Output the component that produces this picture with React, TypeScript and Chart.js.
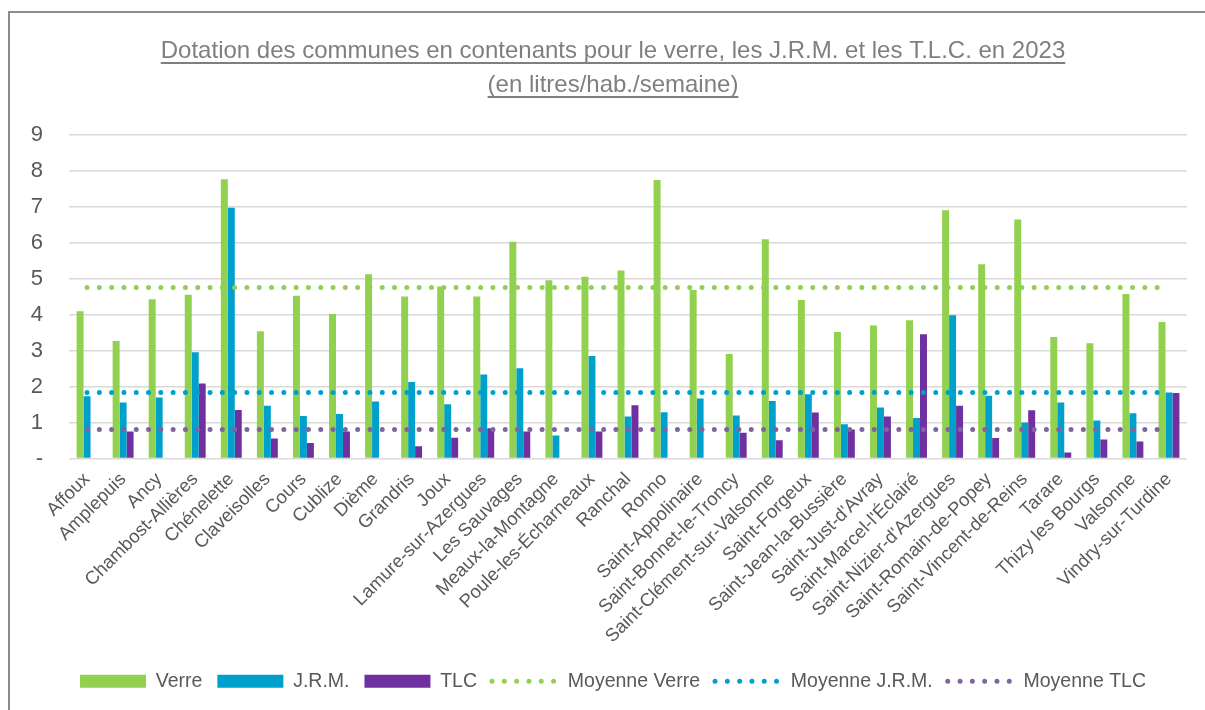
import React, { useEffect, useRef } from "react";
import { Chart, registerables } from "chart.js";

Chart.register(...registerables);

const FONT = "'Liberation Sans', Arial, sans-serif";

const TITLE_LINES = [
  "Dotation des communes en contenants pour le verre, les J.R.M. et les T.L.C. en 2023",
  "(en litres/hab./semaine)",
];

const COMMUNES = [
  "Affoux", "Amplepuis", "Ancy", "Chambost-Allières", "Chénelette", "Claveisolles",
  "Cours", "Cublize", "Dième", "Grandris", "Joux", "Lamure-sur-Azergues",
  "Les Sauvages", "Meaux-la-Montagne", "Poule-les-Écharneaux", "Ranchal", "Ronno",
  "Saint-Appolinaire", "Saint-Bonnet-le-Troncy", "Saint-Clément-sur-Valsonne",
  "Saint-Forgeux", "Saint-Jean-la-Bussière", "Saint-Just-d'Avray",
  "Saint-Marcel-l'Éclairé", "Saint-Nizier-d'Azergues", "Saint-Romain-de-Popey",
  "Saint-Vincent-de-Reins", "Tarare", "Thizy les Bourgs", "Valsonne", "Vindry-sur-Turdine",
];

const VERRE = [
  4.10, 3.27, 4.43, 4.56, 7.77, 3.54, 4.53, 4.02, 5.13, 4.51, 4.79, 4.51, 6.03, 4.96,
  5.06, 5.23, 7.75, 4.69, 2.91, 6.10, 4.41, 3.52, 3.70, 3.85, 6.91, 5.41, 6.65, 3.38,
  3.21, 4.58, 3.80,
];

const JRM = [
  1.73, 1.56, 1.70, 2.96, 6.98, 1.47, 1.18, 1.24, 1.59, 2.13, 1.51, 2.34, 2.51, 0.64,
  2.85, 1.17, 1.29, 1.67, 1.20, 1.60, 1.79, 0.95, 1.42, 1.13, 3.99, 1.75, 1.00, 1.56,
  1.06, 1.26, 1.84,
];

const TLC = [
  null, 0.75, null, 2.09, 1.35, 0.56, 0.43, 0.75, null, 0.34, 0.58, 0.84, 0.75, null,
  0.75, 1.48, null, null, 0.72, 0.51, 1.28, 0.81, 1.17, 3.46, 1.47, 0.57, 1.34, 0.17,
  0.53, 0.47, 1.82,
];

const MOYENNE_VERRE = 4.76;
const MOYENNE_JRM = 1.84;
const MOYENNE_TLC = 0.81;

const Y_TICKS = [0, 1, 2, 3, 4, 5, 6, 7, 8, 9];

const GREEN = "#92D050";
const BLUE = "#00A0CC";
const PURPLE = "#7030A0";
const PURPLE_DOT = "#8064A2";
const TEXT = "#595959";
const DOT_DASH = [0, 12.3];

const TITLE_SIZE = 24;
const TITLE_LH = 1.42;
const TITLE_PAD_TOP = 34;

const underlinePlugin = {
  id: "titleUnderline",
  afterDraw(chart: any) {
    const tb = chart.titleBlock;
    if (!tb) return;
    const ctx = chart.ctx;
    const lh = TITLE_SIZE * TITLE_LH;
    const cx = (tb.left + tb.right) / 2;
    ctx.save();
    ctx.font = `normal ${TITLE_SIZE}px ${FONT}`;
    ctx.strokeStyle = "#7f7f7f";
    ctx.lineWidth = 2;
    TITLE_LINES.forEach((line, i) => {
      const w = ctx.measureText(line).width;
      const y = tb.top + TITLE_PAD_TOP + lh / 2 + i * lh + 12;
      ctx.beginPath();
      ctx.moveTo(cx - w / 2, y);
      ctx.lineTo(cx + w / 2, y);
      ctx.stroke();
    });
    ctx.restore();
  },
};

export default function App() {
  const ref = useRef<HTMLCanvasElement>(null);

  useEffect(() => {
    const lineData = (v: number) => COMMUNES.map(() => v);
    const chart = new Chart(ref.current as HTMLCanvasElement, {
      type: "bar",
      data: {
        labels: COMMUNES,
        datasets: [
          { type: "bar", label: "Verre", data: VERRE, backgroundColor: GREEN, categoryPercentage: 0.58, barPercentage: 1, order: 2 },
          { type: "bar", label: "J.R.M.", data: JRM, backgroundColor: BLUE, categoryPercentage: 0.58, barPercentage: 1, order: 2 },
          { type: "bar", label: "TLC", data: TLC, backgroundColor: PURPLE, categoryPercentage: 0.58, barPercentage: 1, order: 2 },
          { type: "line", label: "Moyenne Verre", data: lineData(MOYENNE_VERRE), borderColor: GREEN, borderWidth: 5, borderDash: DOT_DASH, borderCapStyle: "round", pointRadius: 0, fill: false, order: 1 },
          { type: "line", label: "Moyenne J.R.M.", data: lineData(MOYENNE_JRM), borderColor: BLUE, borderWidth: 5, borderDash: DOT_DASH, borderCapStyle: "round", pointRadius: 0, fill: false, order: 1 },
          { type: "line", label: "Moyenne TLC", data: lineData(MOYENNE_TLC), borderColor: PURPLE_DOT, borderWidth: 5, borderDash: DOT_DASH, borderCapStyle: "round", pointRadius: 0, fill: false, order: 1 },
        ] as any,
      },
      options: {
        animation: false,
        responsive: false,
        devicePixelRatio: 1,
        layout: { padding: { left: 0, right: 0, top: 0, bottom: 9 } },
        plugins: {
          tooltip: { enabled: false },
          title: {
            display: true,
            text: TITLE_LINES,
            color: "#7f7f7f",
            font: { family: FONT, size: TITLE_SIZE, weight: "normal", lineHeight: TITLE_LH },
            padding: { top: TITLE_PAD_TOP, bottom: 33 },
          },
          legend: {
            position: "bottom",
            labels: {
              usePointStyle: true,
              pointStyleWidth: 66,
              boxHeight: 13,
              padding: 15,
              color: TEXT,
              font: { family: FONT, size: 19.5 },
              generateLabels: (c: any) =>
                c.data.datasets.map((ds: any, i: number) => {
                  const isLine = ds.type === "line";
                  return {
                    text: ds.label,
                    datasetIndex: i,
                    hidden: false,
                    fillStyle: isLine ? "rgba(0,0,0,0)" : ds.backgroundColor,
                    strokeStyle: isLine ? ds.borderColor : ds.backgroundColor,
                    lineWidth: isLine ? 5 : 0,
                    lineDash: isLine ? DOT_DASH : [],
                    lineCap: isLine ? "round" : "butt",
                    pointStyle: isLine ? "line" : "rect",
                    fontColor: TEXT,
                  };
                }),
            },
          },
        },
        scales: {
          x: {
            grid: { display: false },
            border: { display: false },
            ticks: {
              color: TEXT,
              font: { family: FONT, size: 18.5 },
              maxRotation: 45,
              minRotation: 45,
              autoSkip: false,
              padding: 2,
            },
            afterFit: (s: any) => { s.height = 198; },
          },
          y: {
            min: 0,
            max: 9,
            afterBuildTicks: (s: any) => { s.ticks = Y_TICKS.map((v) => ({ value: v })); },
            grid: { color: "#d9d9d9", lineWidth: 1.5, drawTicks: false },
            border: { display: false },
            ticks: {
              color: TEXT,
              font: { family: FONT, size: 22 },
              padding: 26,
              callback: (v: any) => (Number(v) === 0 ? "-" : String(v)),
            },
            afterFit: (s: any) => { s.width = 60; },
          },
          yRight: {
            position: "right",
            display: true,
            grid: { display: false },
            border: { display: false },
            ticks: { display: false },
            afterFit: (s: any) => { s.width = 30; },
          },
        },
      } as any,
      plugins: [underlinePlugin],
    });
    return () => chart.destroy();
  }, []);

  return (
    <div style={{ position: "fixed", left: 0, top: 0, width: 1205, height: 710, overflow: "hidden", background: "#fff" }}>
      <div style={{ position: "absolute", left: 8, top: 11, width: 1300, height: 800, borderLeft: "2px solid #8c8c8c", borderTop: "2px solid #8c8c8c" }} />
      <canvas ref={ref} width={1208} height={710} style={{ position: "absolute", left: 9, top: 0, width: 1208, height: 710 }} />
    </div>
  );
}
